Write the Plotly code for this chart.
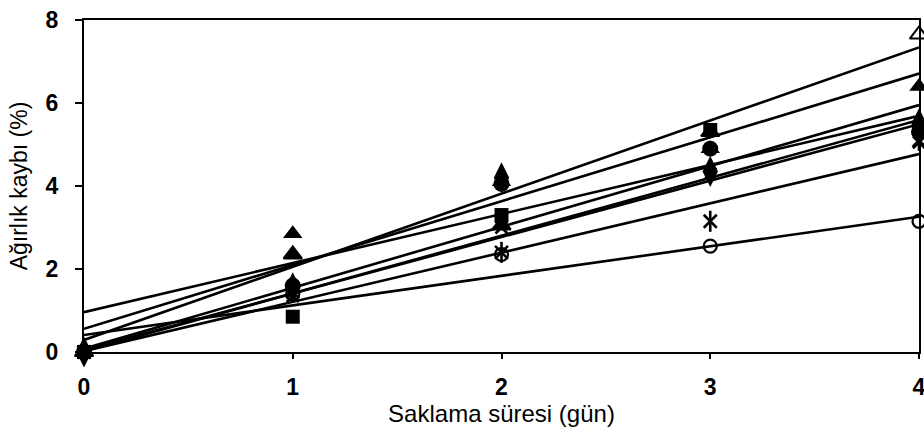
import plotly.graph_objects as go

days = [0, 1, 2, 3, 4]

# Series values (weight loss %)
s_tri_b    = [0, 2.35, 3.05, 5.30, 7.65]
s_tri      = [0, 2.85, 4.10, 4.90, 6.40]
s_diamond  = [0, 1.55, 4.20, 4.35, 5.50]
s_square   = [0, 0.85, 3.30, 5.35, 5.40]
s_circle   = [0, 1.60, 4.05, 4.90, 5.30]
s_x        = [0, 1.35, 3.00, 4.30, 5.05]
s_aster    = [0, 1.45, 2.40, 3.15, 5.10]
s_open_cir = [0, 1.40, 2.35, 2.55, 3.15]

# Linear trend lines: value at day 0 and day 4
trend_x = [0, 4]
trend_start = [0.29, 0.56, 0.96, 0.08, 0.02, 0.05, 0.02, 0.41]
trend_end   = [7.34, 6.71, 5.69, 5.95, 5.59, 5.49, 4.77, 3.26]

x_ticks = [0, 1, 2, 3, 4]
y_ticks = [0, 2, 4, 6, 8]

fig = go.Figure()

for a, b in zip(trend_start, trend_end):
    fig.add_trace(go.Scatter(x=trend_x, y=[a, b], mode="lines",
                             line=dict(color="black", width=2.6),
                             showlegend=False, hoverinfo="skip", cliponaxis=False))

def add_markers(vals, symbol, size, lw=0, color="black"):
    fig.add_trace(go.Scatter(
        x=days, y=vals, mode="markers", showlegend=False, cliponaxis=False,
        marker=dict(symbol=symbol, size=size, color=color,
                    line=dict(color="black", width=lw))))

add_markers(s_open_cir, "circle-open", 13, 2.2)
add_markers(s_aster, "x-thin-open", 13, 2.6)
add_markers(s_aster, "line-ns-open", 15, 2.6)
add_markers(s_x, "x-thin-open", 12, 2.6)
add_markers(s_tri_b, ["triangle-up"] * 4 + ["triangle-up-open"], 16, 2)
add_markers(s_tri, "triangle-up", 17)
add_markers(s_square, "square", 14)
add_markers(s_circle, "circle", 16)
add_markers(s_diamond, "diamond-tall", 22)

fig.update_layout(
    width=924, height=434,
    margin=dict(l=84, r=5, t=20, b=82),
    plot_bgcolor="white", paper_bgcolor="white",
    font=dict(family="Liberation Sans, Arial, sans-serif", color="black"),
)
fig.update_xaxes(
    range=[0, 4], tickvals=x_ticks, ticktext=[str(v) for v in x_ticks],
    showgrid=False, zeroline=False, showline=True, linecolor="black", linewidth=2,
    mirror=True, ticks="outside", ticklen=5, tickwidth=1.5, tickcolor="black",
    tickfont=dict(size=23, weight="bold"), ticklabelstandoff=8,
    ticklabeloverflow="allow",
    title=dict(text="Saklama süresi (gün)", font=dict(size=24), standoff=2),
    automargin=False,
)
fig.update_yaxes(
    range=[0, 8], tickvals=y_ticks, ticktext=[str(v) for v in y_ticks],
    showgrid=False, zeroline=False, showline=True, linecolor="black", linewidth=2,
    mirror=True, ticks="outside", ticklen=7, tickwidth=1.5, tickcolor="black",
    tickfont=dict(size=23, weight="bold"), ticklabelstandoff=12,
    title=dict(text="Ağırlık kaybı (%)", font=dict(size=23), standoff=12),
    automargin=False,
)

fig.write_html("out.html", config={"displayModeBar": False},
               post_script="document.body.style.margin='0';document.body.style.overflow='hidden';")
